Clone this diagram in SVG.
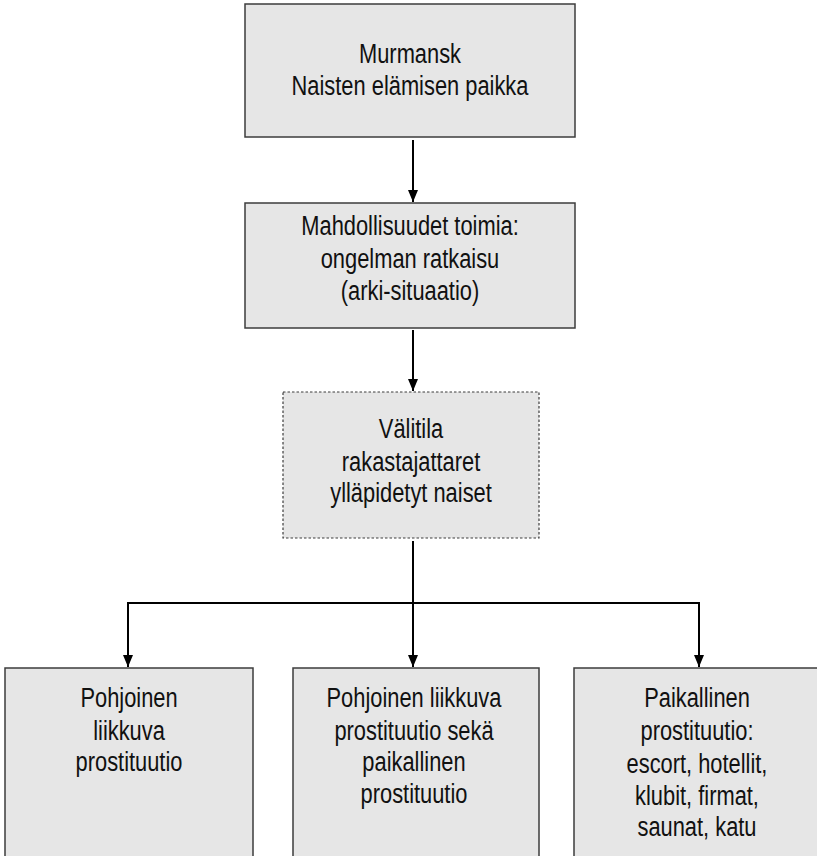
<svg xmlns="http://www.w3.org/2000/svg" width="817" height="856" viewBox="0 0 817 856">
<defs>
<marker id="arr" viewBox="0 0 12 10" refX="12" refY="5" markerWidth="12" markerHeight="10" markerUnits="userSpaceOnUse" orient="auto-start-reverse">
<path d="M0,0 L12,5 L0,10 Z" fill="#000"/>
</marker>
<style>
.box{fill:#e6e6e6;stroke:#3c3c3c;stroke-width:1.5}
.dash{fill:#e6e6e6;stroke:#3c3c3c;stroke-width:1.2;stroke-dasharray:2.5 2}
.t{font-family:"Liberation Sans",Arial,sans-serif;font-size:27px;fill:#111;text-anchor:middle}
.c{fill:none;stroke:#000;stroke-width:2}
</style>
</defs>
<rect width="817" height="856" fill="#fff"/>
<g id="connectors">
<path class="c" d="M413,140 V202" marker-end="url(#arr)"/>
<path class="c" d="M413,330 V391" marker-end="url(#arr)"/>
<path class="c" d="M413,541 V667" marker-end="url(#arr)"/>
<path class="c" d="M128,667 V603 H699 V667" marker-start="url(#arr)" marker-end="url(#arr)"/>
</g>
<g id="n1">
<rect class="box" x="245" y="4" width="330" height="133"/>
<text class="t" transform="translate(410,63) scale(0.81,1)">Murmansk</text>
<text class="t" transform="translate(410,95) scale(0.81,1)">Naisten elämisen paikka</text>
</g>
<g id="n2">
<rect class="box" x="245" y="203" width="330" height="125"/>
<text class="t" transform="translate(410,235) scale(0.81,1)">Mahdollisuudet toimia:</text>
<text class="t" transform="translate(410,268) scale(0.81,1)">ongelman ratkaisu</text>
<text class="t" transform="translate(410,300) scale(0.81,1)">(arki-situaatio)</text>
</g>
<g id="n3">
<rect class="dash" x="283" y="392" width="256" height="146"/>
<text class="t" transform="translate(411,438) scale(0.81,1)">Välitila</text>
<text class="t" transform="translate(411,471) scale(0.81,1)">rakastajattaret</text>
<text class="t" transform="translate(411,502) scale(0.81,1)">ylläpidetyt naiset</text>
</g>
<g id="n4">
<rect class="box" x="5" y="668" width="248" height="200"/>
<text class="t" transform="translate(129,707) scale(0.81,1)">Pohjoinen</text>
<text class="t" transform="translate(129,740) scale(0.81,1)">liikkuva</text>
<text class="t" transform="translate(129,771) scale(0.81,1)">prostituutio</text>
</g>
<g id="n5">
<rect class="box" x="293" y="668" width="246" height="200"/>
<text class="t" transform="translate(414,707) scale(0.81,1)">Pohjoinen liikkuva</text>
<text class="t" transform="translate(414,740) scale(0.81,1)">prostituutio sekä</text>
<text class="t" transform="translate(414,771) scale(0.81,1)">paikallinen</text>
<text class="t" transform="translate(414,803) scale(0.81,1)">prostituutio</text>
</g>
<g id="n6">
<rect class="box" x="574" y="668" width="250" height="200"/>
<text class="t" transform="translate(697,707) scale(0.81,1)">Paikallinen</text>
<text class="t" transform="translate(697,740) scale(0.81,1)">prostituutio:</text>
<text class="t" transform="translate(697,773) scale(0.81,1)">escort, hotellit,</text>
<text class="t" transform="translate(697,805) scale(0.81,1)">klubit, firmat,</text>
<text class="t" transform="translate(697,836) scale(0.81,1)">saunat, katu</text>
</g>
</svg>
